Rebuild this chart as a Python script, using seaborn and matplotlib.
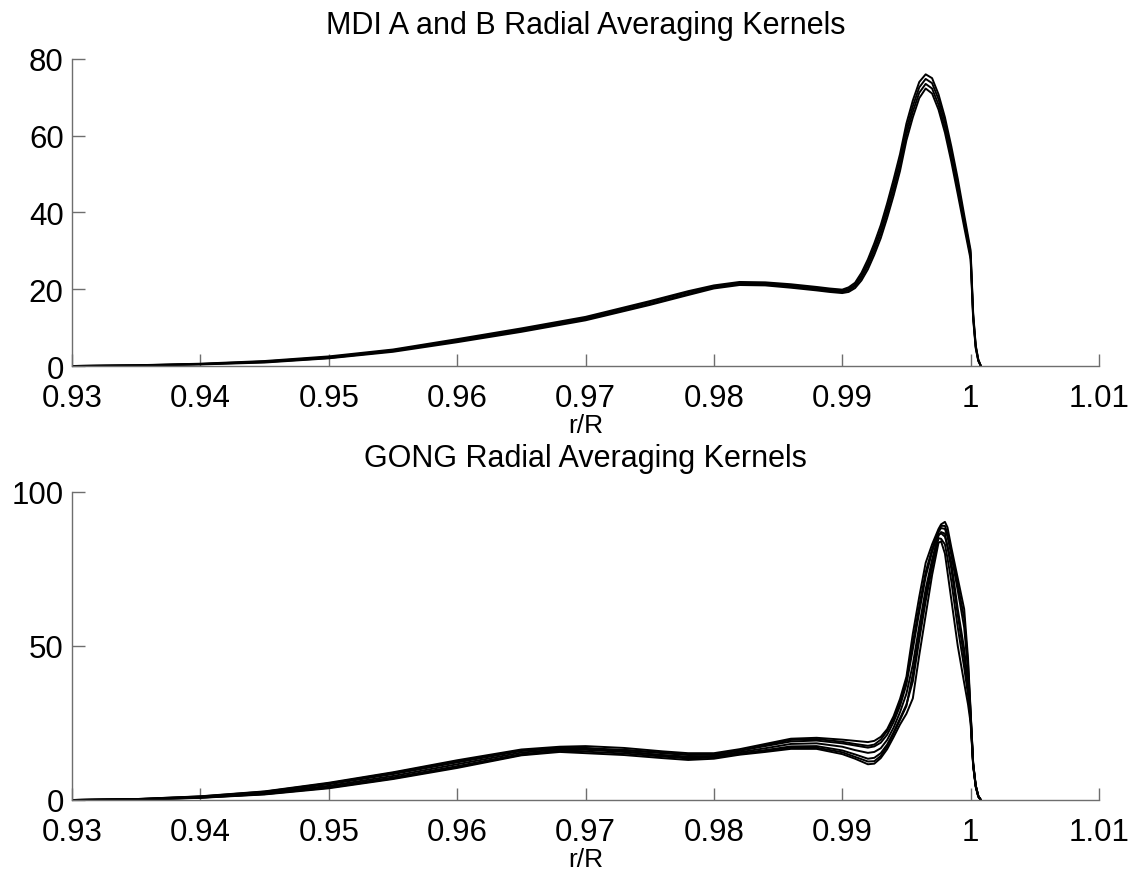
import numpy as np
import pandas as pd
import matplotlib
matplotlib.use("Agg")
import matplotlib.pyplot as plt
import seaborn as sns

# ---------------- data ----------------
mdi_r = [0.930, 0.935, 0.940, 0.945, 0.950, 0.955, 0.960, 0.965, 0.970, 0.975,
         0.978, 0.980, 0.982, 0.984, 0.986, 0.988, 0.989, 0.990, 0.9905, 0.991,
         0.9915, 0.992, 0.9925, 0.993, 0.9935, 0.994, 0.9945, 0.995, 0.9955, 0.996,
         0.9965, 0.997, 0.9975, 0.998, 0.9985, 0.999, 0.9995, 1.000, 1.0002, 1.0004,
         1.0006, 1.0008]
mdi_upper = [0, 0.2, 0.6, 1.3, 2.5, 4.3, 7.0, 9.8, 12.8, 16.9,
             19.5, 21.0, 21.9, 21.8, 21.3, 20.6, 20.2, 19.9, 20.5, 21.7,
             24.3, 27.8, 32.0, 36.7, 42.4, 48.6, 55.2, 63.2, 69.2, 74.0,
             76.0, 75.0, 70.8, 64.8, 57.2, 48.8, 39.4, 30.2, 13.8, 5.4,
             1.7, 0]
mdi_midhi = [0, 0.17, 0.53, 1.17, 2.3, 4.1, 6.7, 9.5, 12.5, 16.6,
             19.2, 20.7, 21.6, 21.5, 21.0, 20.3, 19.9, 19.6, 20.1, 21.2,
             23.6, 26.9, 31.0, 35.5, 41.1, 47.2, 53.7, 61.7, 67.7, 72.6,
             74.8, 73.7, 69.5, 63.5, 55.9, 47.5, 38.3, 29.4, 13.3, 5.1,
             1.6, 0]
mdi_midlo = [0, 0.13, 0.47, 1.03, 2.1, 3.9, 6.5, 9.2, 12.2, 16.2,
             18.8, 20.5, 21.4, 21.3, 20.7, 20.0, 19.6, 19.3, 19.7, 20.8,
             23.0, 26.1, 30.0, 34.5, 39.9, 45.8, 52.3, 60.3, 66.3, 71.2,
             73.5, 72.3, 68.1, 62.1, 54.5, 46.1, 37.3, 28.6, 12.7, 4.9,
             1.4, 0]
mdi_lower = [0, 0.1, 0.4, 0.9, 2.0, 3.7, 6.2, 8.9, 11.9, 15.9,
             18.5, 20.2, 21.1, 21.0, 20.4, 19.7, 19.3, 19.0, 19.3, 20.3,
             22.3, 25.2, 29.0, 33.3, 38.6, 44.4, 50.8, 58.8, 64.8, 69.8,
             72.3, 71.0, 66.8, 60.8, 53.2, 44.8, 36.2, 27.8, 12.2, 4.6,
             1.3, 0]

gong_r = [0.930, 0.935, 0.940, 0.945, 0.950, 0.955, 0.960, 0.965, 0.968, 0.970,
          0.973, 0.976, 0.978, 0.980, 0.982, 0.984, 0.986, 0.988, 0.990, 0.991,
          0.992, 0.9925, 0.993, 0.9935, 0.994, 0.9945, 0.995, 0.9955, 0.996, 0.9965,
          0.997, 0.9975, 0.9977, 0.998, 0.9982, 0.9985, 0.999, 0.9995, 0.9998, 1.000,
          1.0002, 1.0004, 1.0006, 1.0008]
gong_upper = [0, 0.3, 1.2, 2.8, 5.6, 9.0, 12.9, 16.4, 17.3, 17.5,
              16.9, 15.8, 15.2, 15.2, 16.5, 18.2, 19.9, 20.2, 19.6, 19.2,
              18.8, 19.2, 20.5, 23.0, 27.2, 32.8, 40.0, 54.0, 66.0, 77.0,
              83.0, 88.0, 89.5, 90.3, 88.5, 82.0, 72.0, 62.0, 46.0, 29.0,
              12.0, 4.8, 1.4, 0]
gong_midhi = [0, 0.25, 1.05, 2.5, 5.1, 8.4, 12.2, 15.9, 16.8, 16.9,
              16.2, 15.2, 14.6, 14.7, 16.0, 17.5, 19.0, 19.3, 18.4, 17.7,
              17.0, 17.4, 18.6, 21.2, 25.3, 30.5, 37.5, 49.0, 61.0, 72.5,
              80.5, 87.0, 88.3, 88.0, 85.5, 79.5, 68.0, 56.0, 42.0, 28.0,
              11.8, 4.6, 1.3, 0]
gong_center = [0, 0.2, 0.9, 2.2, 4.6, 7.8, 11.6, 15.4, 16.4, 16.3,
               15.6, 14.6, 14.1, 14.3, 15.5, 16.8, 18.2, 18.4, 17.3, 16.2,
               15.3, 15.6, 16.8, 19.5, 23.5, 28.5, 34.5, 44.0, 56.5, 68.5,
               78.0, 86.0, 86.6, 85.5, 82.5, 77.0, 62.0, 49.0, 38.0, 27.0,
               11.5, 4.5, 1.2, 0]
gong_midlo = [0, 0.15, 0.8, 2.0, 4.2, 7.3, 11.0, 14.9, 16.0, 15.7,
              15.1, 14.1, 13.5, 13.8, 15.1, 16.2, 17.4, 17.5, 16.1, 14.8,
              13.4, 13.7, 15.2, 18.0, 22.0, 26.5, 31.0, 38.5, 52.0, 64.5,
              75.5, 85.0, 84.8, 83.0, 78.5, 71.0, 56.0, 43.0, 34.0, 26.0,
              11.2, 4.4, 1.1, 0]
gong_lower = [0, 0.1, 0.7, 1.8, 3.8, 6.8, 10.4, 14.5, 15.6, 15.2,
              14.6, 13.6, 13.0, 13.4, 14.7, 15.6, 16.6, 16.6, 14.9, 13.4,
              11.6, 11.8, 13.6, 16.5, 20.4, 24.5, 28.0, 33.0, 47.0, 60.0,
              73.0, 83.5, 84.0, 80.0, 74.0, 65.0, 50.0, 38.0, 31.0, 25.0,
              11.0, 4.2, 1.0, 0]
gong_cross_a = [0, 0.3, 1.15, 2.7, 5.4, 8.8, 12.6, 16.1, 16.9, 16.8,
                15.8, 14.5, 13.8, 13.9, 14.9, 16.0, 17.0, 17.0, 15.5, 14.0,
                12.5, 12.6, 14.3, 17.4, 21.5, 26.0, 30.5, 41.0, 54.0, 66.5,
                77.0, 86.0, 87.0, 86.5, 82.0, 75.0, 60.0, 46.0, 36.0, 26.5,
                11.4, 4.5, 1.2, 0]
gong_cross_b = [0, 0.12, 0.75, 1.9, 4.0, 7.0, 10.7, 14.7, 15.9, 16.4,
                16.3, 15.4, 14.8, 14.9, 16.0, 17.8, 19.5, 19.8, 18.9, 18.2,
                17.6, 18.0, 19.6, 22.4, 26.4, 31.5, 39.0, 51.0, 63.0, 74.0,
                81.5, 87.5, 89.0, 89.0, 86.5, 80.5, 70.0, 59.0, 44.0, 28.5,
                11.9, 4.7, 1.3, 0]

x_ticks = [0.93, 0.94, 0.95, 0.96, 0.97, 0.98, 0.99, 1.00, 1.01]
x_tick_labels = ["0.93", "0.94", "0.95", "0.96", "0.97", "0.98", "0.99", "1", "1.01"]
mdi_y_ticks = [0, 20, 40, 60, 80]
gong_y_ticks = [0, 50, 100]

titles = ["MDI A and B Radial Averaging Kernels", "GONG Radial Averaging Kernels"]
x_label = "r/R"


def long_frame(r, kernels):
    rows = []
    for name, vals in kernels.items():
        for rv, v in zip(r, vals):
            rows.append((name, rv, v))
    return pd.DataFrame(rows, columns=["kernel", "r", "value"])


mdi_df = long_frame(mdi_r, {"k1": mdi_upper, "k2": mdi_midhi, "k3": mdi_midlo, "k4": mdi_lower})
gong_df = long_frame(gong_r, {"k1": gong_upper, "k2": gong_midhi, "k3": gong_center,
                              "k4": gong_midlo, "k5": gong_lower,
                              "k6": gong_cross_a, "k7": gong_cross_b})

# ---------------- style ----------------
sns.set_style("white")
plt.rcParams["font.family"] = ["Liberation Sans", "DejaVu Sans"]
plt.rcParams["text.color"] = "black"
plt.rcParams["axes.labelcolor"] = "black"

fig = plt.figure(figsize=(11.38, 8.78), dpi=100)
left, width = 0.0633, 0.9024
ax1 = fig.add_axes([left, 0.5820, width, 0.3497])
ax2 = fig.add_axes([left, 0.0877, width, 0.3508])

axis_grey = "#6e6e6e"

for ax, df, yt, title in [(ax1, mdi_df, mdi_y_ticks, titles[0]),
                          (ax2, gong_df, gong_y_ticks, titles[1])]:
    sns.lineplot(data=df, x="r", y="value", units="kernel", estimator=None,
                 color="black", linewidth=1.4, sort=False, legend=False, ax=ax)
    ax.set_xlim(x_ticks[0], x_ticks[-1])
    ax.set_ylim(yt[0], yt[-1])
    ax.set_xticks(x_ticks)
    ax.set_xticklabels(x_tick_labels)
    ax.set_yticks(yt)
    ax.set_yticklabels([str(v) for v in yt])
    ax.set_xlabel(x_label, fontsize=19, labelpad=0, color="black")
    ax.set_ylabel("")
    ax.set_title(title, fontsize=22, pad=19, color="black")
    for s in ["top", "right"]:
        ax.spines[s].set_visible(False)
    for s in ["left", "bottom"]:
        ax.spines[s].set_color(axis_grey)
        ax.spines[s].set_linewidth(1.0)
    ax.tick_params(axis="x", direction="in", length=9, width=1.0, color=axis_grey,
                   labelcolor="black", labelsize=22.5, pad=12, bottom=True)
    ax.tick_params(axis="y", direction="in", length=9, width=1.0, color=axis_grey,
                   labelcolor="black", labelsize=22.5, pad=6, left=True)
    ax.set_facecolor("white")

fig.savefig("out.png", dpi=100, facecolor="white")
